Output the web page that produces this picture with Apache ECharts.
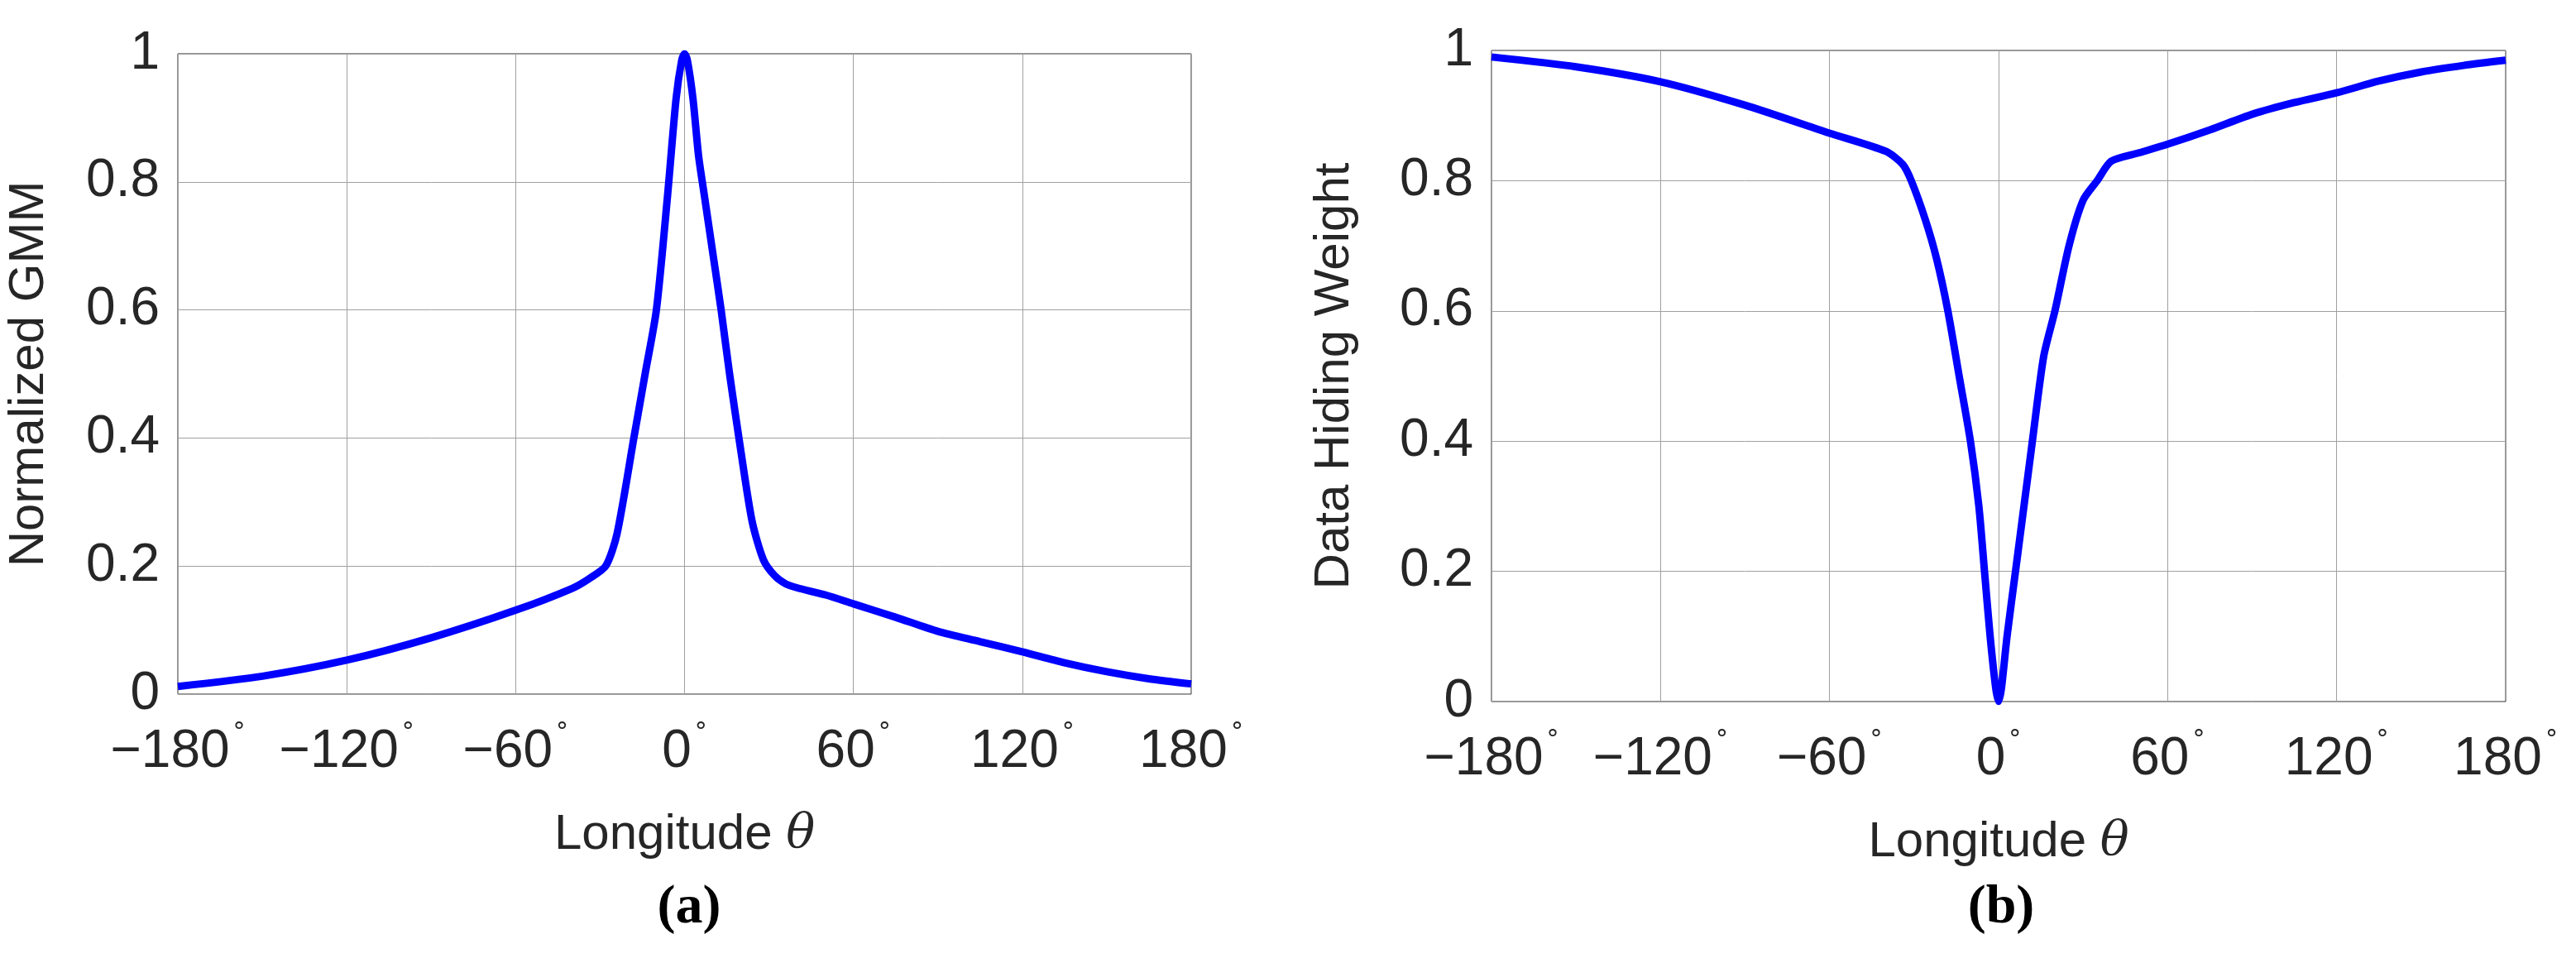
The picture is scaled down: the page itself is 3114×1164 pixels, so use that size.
<!DOCTYPE html><html><head><meta charset="utf-8">
<script src="https://cdn.jsdelivr.net/npm/echarts@6/dist/echarts.min.js"></script>
<style>html,body{margin:0;background:#fff}#c{width:3114px;height:1164px}</style></head><body><div id="c"></div>
<script>
const xTicks = [-180,-120,-60,0,60,120,180];
const yTicks = [0,0.2,0.4,0.6,0.8,1];
const gmmX = [-180,-150,-120,-90,-60,-40,-34,-28,-24,-18,-14,-10,-6,-3,-1,0,1,3,5,7,10,13,16,20,24,28,32,36,40,50,60,75,90,105,120,135,150,165,180];
const gmmY = [0.012,0.028,0.053,0.088,0.131,0.165,0.18,0.2,0.25,0.4,0.5,0.6,0.78,0.93,0.99,1.0,0.99,0.93,0.84,0.78,0.69,0.6,0.5,0.38,0.27,0.21,0.185,0.172,0.166,0.155,0.141,0.12,0.098,0.082,0.066,0.049,0.035,0.024,0.016];
const wX = [-180,-150,-120,-90,-60,-40,-34,-31,-26,-22,-18,-14,-10,-7,-5,-3,-1,0,1,3,6,9,12,16,20,25,30,35,40,50,60,75,90,105,120,135,150,165,180];
const wY = [0.99,0.975,0.952,0.916,0.873,0.845,0.825,0.8,0.74,0.68,0.6,0.5,0.4,0.3,0.2,0.1,0.02,0.0,0.02,0.1,0.2,0.3,0.4,0.53,0.6,0.7,0.77,0.8,0.83,0.843,0.856,0.878,0.902,0.92,0.935,0.953,0.967,0.977,0.985];
const yTitles = ['Normalized GMM','Data Hiding Weight'];
const captions = ['(a)','(b)'];

const chart = echarts.init(document.getElementById('c'));
const FF = 'Liberation Sans, Arial, sans-serif';
const grids = [{left:215,top:65,width:1225,height:774},{left:1803,top:61,width:1226,height:787}];
function xa(i){return {gridIndex:i,type:'value',min:-180,max:180,interval:60,
  name:'Longitude {t|θ}',nameLocation:'middle',nameGap:140,
  nameTextStyle:{fontFamily:FF,fontSize:60,color:'#262626',rich:{t:{fontFamily:'DejaVu Serif',fontStyle:'italic',fontSize:58,color:'#262626'}}},
  axisLine:{show:false},axisTick:{show:false},
  splitLine:{show:true,lineStyle:{color:'#a0a0a0',width:1}},
  axisLabel:{margin:32,formatter:v=>'{n|'+(v<0?'−'+(-v):v)+'}{d|°}',
    rich:{n:{fontFamily:FF,fontSize:64,color:'#262626'},d:{fontFamily:'DejaVu Sans',fontSize:30,color:'#262626',padding:[0,0,46,4]}}}};}
function ya(i){return {gridIndex:i,type:'value',min:0,max:1,interval:0.2,
  name:yTitles[i],nameLocation:'middle',nameGap:i===0?150:160,
  nameTextStyle:{fontFamily:FF,fontSize:60,color:'#262626'},
  axisLine:{show:false},axisTick:{show:false},
  splitLine:{show:true,lineStyle:{color:'#a0a0a0',width:1}},
  axisLabel:{margin:22,fontFamily:FF,fontSize:64,color:'#262626',formatter:v=>String(+v.toFixed(1))}};}
chart.setOption({
  animation:false,
  grid:grids.map(g=>Object.assign({show:true,borderColor:'#262626',borderWidth:1},g)),
  xAxis:[xa(0),xa(1)],
  yAxis:[ya(0),ya(1)],
  title:[{text:captions[0],left:828,top:1060,textAlign:'center',textStyle:{fontFamily:'Liberation Serif',fontWeight:'bold',fontSize:66,color:'#000'}},
         {text:captions[1],left:2414,top:1060,textAlign:'center',textStyle:{fontFamily:'Liberation Serif',fontWeight:'bold',fontSize:66,color:'#000'}}],
  series:[
    {type:'line',xAxisIndex:0,yAxisIndex:0,data:gmmX.map((x,k)=>[x,gmmY[k]]),showSymbol:false,smooth:0.25,lineStyle:{color:'#0000ff',width:9}},
    {type:'line',xAxisIndex:1,yAxisIndex:1,data:wX.map((x,k)=>[x,wY[k]]),showSymbol:false,smooth:0.25,lineStyle:{color:'#0000ff',width:9}}
  ]
});
</script></body></html>
